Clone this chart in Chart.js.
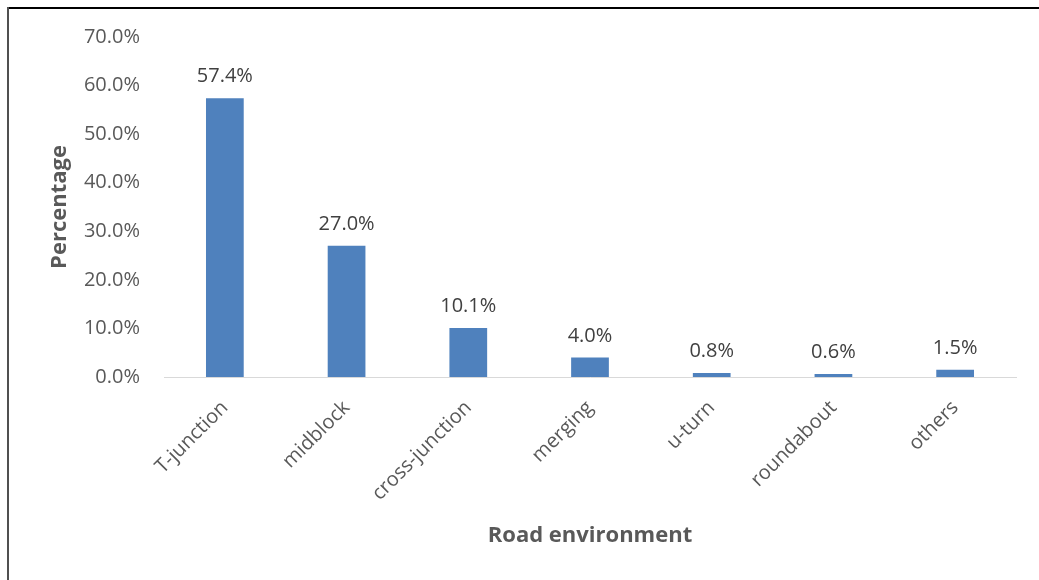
<!DOCTYPE html>
<html>
<head>
<meta charset="utf-8">
<script src="https://cdn.jsdelivr.net/npm/chart.js@4"></script>
<style>
  html, body { margin: 0; padding: 0; background: #ffffff; }
  #wrap { position: relative; width: 1039px; height: 580px; }
</style>
</head>
<body>
<div id="wrap"><canvas id="chart"></canvas></div>
<script>
// ── Data ────────────────────────────────────────────────────────────────
const categories = ["T-junction", "midblock", "cross-junction", "merging", "u-turn", "roundabout", "others"];
const percentages = [57.4, 27.0, 10.1, 4.0, 0.8, 0.6, 1.5];
const yTicks = [0, 10, 20, 30, 40, 50, 60, 70];

// ── Theme ───────────────────────────────────────────────────────────────
const FONT = "'Open Sans', 'Noto Sans', sans-serif";
const BAR_BLUE = "#4f81bd";
const TEXT_GREY = "#595959";
const LABEL_DARK = "#404040";

// frame: black line on top, grey line down the left
const framePlugin = {
  id: "frame",
  beforeDraw(chart) {
    const ctx = chart.ctx;
    ctx.save();
    ctx.fillStyle = "#ffffff";
    ctx.fillRect(0, 0, chart.width, chart.height);
    ctx.fillStyle = "#000000";
    ctx.fillRect(7, 7, chart.width - 7, 2);
    ctx.fillStyle = "#505050";
    ctx.fillRect(7, 7, 2, chart.height - 7);
    ctx.restore();
  },
};

// value labels above each bar
const valueLabels = {
  id: "valueLabels",
  afterDatasetsDraw(chart) {
    const ctx = chart.ctx;
    const meta = chart.getDatasetMeta(0);
    ctx.save();
    ctx.font = "20px " + FONT;
    ctx.fillStyle = LABEL_DARK;
    ctx.textAlign = "center";
    ctx.textBaseline = "alphabetic";
    meta.data.forEach((bar, i) => {
      ctx.fillText(percentages[i].toFixed(1) + "%", bar.x, bar.y - 16);
    });
    ctx.restore();
  },
};

new Chart(document.getElementById("chart"), {
  type: "bar",
  data: {
    labels: categories,
    datasets: [{
      data: percentages,
      backgroundColor: BAR_BLUE,
      borderWidth: 0,
      barPercentage: 0.31,
      categoryPercentage: 1.0,
    }],
  },
  options: {
    responsive: true,
    maintainAspectRatio: false,
    animation: false,
    layout: { padding: { left: 8, top: 37, right: 23, bottom: 0 } },
    plugins: {
      legend: { display: false },
      tooltip: { enabled: false },
    },
    scales: {
      x: {
        grid: { display: false, drawTicks: false },
        border: { display: true, color: "#d9d9d9", width: 1 },
        ticks: {
          color: TEXT_GREY,
          font: { family: FONT, size: 20 },
          maxRotation: 45,
          minRotation: 45,
          padding: 19,
        },
        title: {
          display: true,
          text: "Road environment",
          color: TEXT_GREY,
          font: { family: FONT, size: 22, weight: "bold" },
          padding: { top: 0, bottom: 31 },
        },
        afterFit(scale) { scale.height = 203; },
      },
      y: {
        min: 0,
        max: 70,
        afterBuildTicks(scale) { scale.ticks = yTicks.map(v => ({ value: v })); },
        grid: { display: false, drawTicks: false },
        border: { display: false },
        ticks: {
          color: TEXT_GREY,
          font: { family: FONT, size: 20 },
          padding: 24,
          callback: v => v.toFixed(1) + "%",
        },
        title: {
          display: true,
          text: "Percentage",
          color: TEXT_GREY,
          font: { family: FONT, size: 22, weight: "bold" },
          padding: { top: 39, bottom: 0 },
        },
        afterFit(scale) { scale.width = 156; },
      },
    },
  },
  plugins: [framePlugin, valueLabels],
});
</script>
</body>
</html>
